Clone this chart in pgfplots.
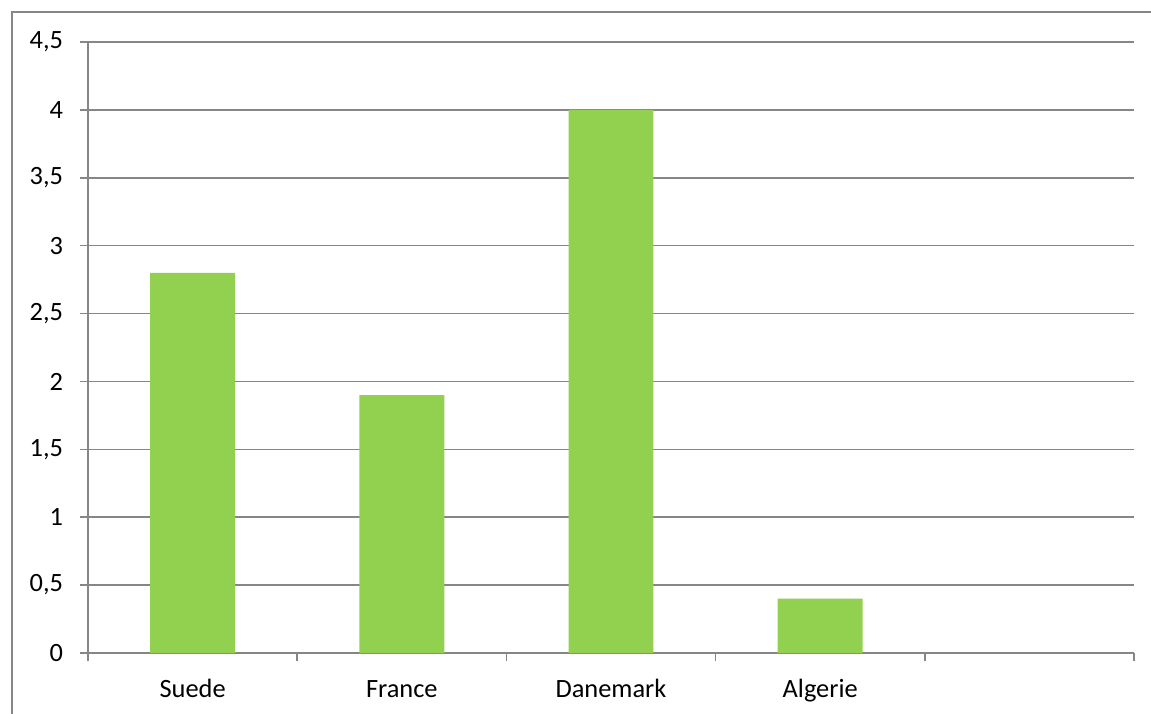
\documentclass[border=0pt]{standalone}
\usepackage{pgfplots}
\pgfplotsset{compat=1.18}
\usepackage{fontspec}
\setmainfont{Carlito}
\definecolor{bargreen}{HTML}{92D050}
\definecolor{linegray}{HTML}{868686}
\begin{document}
\fontsize{19.8}{23}\selectfont
\begin{tikzpicture}
\useasboundingbox (0,0) rectangle (863.25pt,534.75pt);
% outer chart frame (top and left edges)
\draw[linegray, line width=1.1pt] (9pt,-10pt) -- (9pt,525.75pt) -- (880pt,525.75pt);
\begin{axis}[
  at={(66pt,45pt)}, anchor=south west,
  width=784.5pt, height=458.25pt, scale only axis,
  xmin=-0.5, xmax=4.5, ymin=0, ymax=4.5,
  axis x line*=bottom, axis y line*=left,
  axis line style={linegray, line width=1.1pt, -},
  tick align=outside,
  ytick={0,0.5,...,4.5},
  /pgf/number format/use comma,
  /pgf/number format/fixed,
  /pgf/number format/assume math mode=true,
  yticklabel style={anchor=east, inner sep=0pt, xshift=-12.5pt},
  ymajorgrids,
  grid style={linegray, line width=1.1pt},
  major tick length=6pt,
  tick style={linegray, line width=1.1pt},
  xtick={-0.5,0.5,1.5,2.5,3.5,4.5},
  xticklabels={},
  extra x ticks={0,1,2,3},
  extra x tick labels={Suede,France,Danemark,Algerie},
  extra x tick style={major tick length=0pt,
    xticklabel style={anchor=base, inner sep=0pt, yshift=-33pt}},
]
\addplot[ybar, bar width=0.406, bar shift=0pt, fill=bargreen, draw=none]
  coordinates {(0,2.8) (1,1.9) (2,4) (3,0.4)};
\end{axis}
\end{tikzpicture}
\end{document}
